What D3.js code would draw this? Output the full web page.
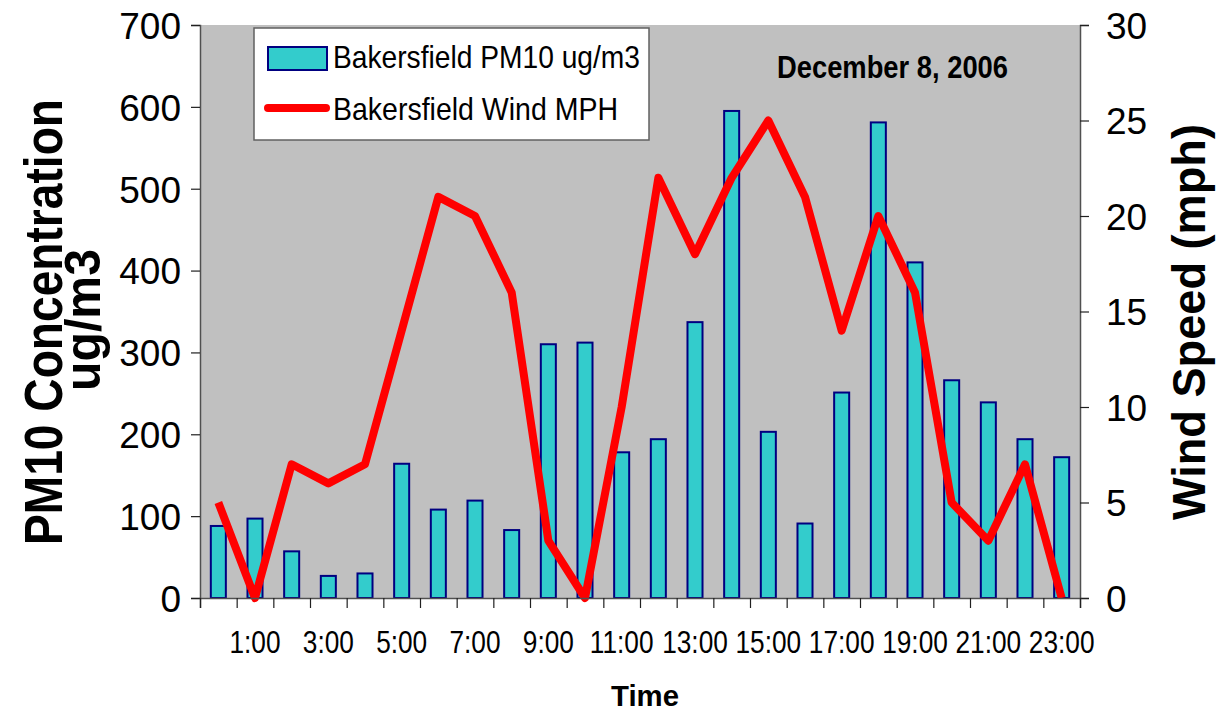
<!DOCTYPE html>
<html>
<head>
<meta charset="utf-8">
<script src="https://cdn.jsdelivr.net/npm/d3@7"></script>
<style>
  body { margin: 0; background: #fff; }
  text { font-family: "Liberation Sans", Arial, sans-serif; }
</style>
</head>
<body>
<div id="chart"></div>
<script>
// Bakersfield PM10 and wind, December 8, 2006

var hours = ["0:00", "1:00", "2:00", "3:00", "4:00", "5:00", "6:00", "7:00",
    "8:00", "9:00", "10:00", "11:00", "12:00", "13:00", "14:00", "15:00",
    "16:00", "17:00", "18:00", "19:00", "20:00", "21:00", "22:00", "23:00"];
var pm10 = [88, 97, 57, 27, 30, 164, 108, 119, 83, 310, 312, 178,
    194, 337, 595, 203, 91, 251, 581, 410, 266, 239, 194, 172];
var wind = [5, 0, 7, 6, 7, 14, 21, 20, 16, 3, 0, 10,
    22, 18, 22, 25, 21, 14, 20, 16, 5, 3, 7, 0];
var pmTicks = [0, 100, 200, 300, 400, 500, 600, 700];
var windTicks = [0, 5, 10, 15, 20, 25, 30];

var width = 1218, height = 715;
var plot = {left: 200, right: 1080, top: 25, bottom: 598};

var svg = d3.select("#chart")
    .append("svg")
    .attr("width", width)
    .attr("height", height);

// squeeze text a little, the original rendering is narrow
function squeeze(sel, k) {
    sel.each(function() {
        var w = this.getComputedTextLength();
        d3.select(this).attr("textLength", w * k).attr("lengthAdjust", "spacingAndGlyphs");
    });
}

var x = d3.scaleBand()
    .domain(hours)
    .range([plot.left, plot.right])
    .paddingInner(0.59)
    .paddingOuter(0.295);

var xEdges = d3.scaleLinear()
    .domain([0, hours.length])
    .range([plot.left, plot.right]);

var yPM = d3.scaleLinear()
    .domain([0, 700])
    .range([plot.bottom, plot.top]);

var yWind = d3.scaleLinear()
    .domain([0, 30])
    .range([plot.bottom, plot.top]);

// plot background
svg.append("rect")
    .attr("x", plot.left)
    .attr("y", plot.top)
    .attr("width", plot.right - plot.left)
    .attr("height", plot.bottom - plot.top)
    .attr("fill", "#c0c0c0");

// bars
svg.append("g")
    .selectAll("rect")
    .data(pm10)
    .enter()
    .append("rect")
    .attr("x", function(d, i) { return x(hours[i]); })
    .attr("y", function(d) { return yPM(d); })
    .attr("width", x.bandwidth())
    .attr("height", function(d) { return yPM(0) - yPM(d); })
    .attr("fill", "#33cccc")
    .attr("stroke", "#000080")
    .attr("stroke-width", 2);

// wind line
var line = d3.line()
    .x(function(d, i) { return x(hours[i]) + x.bandwidth() / 2; })
    .y(function(d) { return yWind(d); });

svg.append("path")
    .datum(wind)
    .attr("d", line)
    .attr("fill", "none")
    .attr("stroke", "#ff0000")
    .attr("stroke-width", 8)
    .attr("stroke-linejoin", "round");

// axes
var leftAxis = svg.append("g")
    .attr("transform", "translate(" + plot.left + ",0)")
    .call(d3.axisLeft(yPM).tickValues(pmTicks).tickSize(9).tickPadding(10));

var rightAxis = svg.append("g")
    .attr("transform", "translate(" + plot.right + ",0)")
    .call(d3.axisRight(yWind).tickValues(windTicks).tickSize(9).tickPadding(17));

var bottomAxis = svg.append("g")
    .attr("transform", "translate(0," + plot.bottom + ")")
    .call(d3.axisBottom(xEdges).tickValues(d3.range(hours.length + 1))
        .tickSize(10).tickFormat(""));

[leftAxis, rightAxis, bottomAxis].forEach(function(a) {
    a.select(".domain").attr("stroke", "#505050").attr("stroke-width", 1.5);
    a.selectAll(".tick line").attr("stroke", "#202020").attr("stroke-width", 1.2);
    a.selectAll("text")
        .style("font-size", "37px")
        .style("font-family", "'Liberation Sans', Arial, sans-serif")
        .attr("fill", "#000");
});
leftAxis.selectAll("text").attr("dy", "0.36em");
rightAxis.selectAll("text").attr("dy", "0.36em");

// hour labels on odd hours
var xLabels = svg.append("g")
    .selectAll("text")
    .data(hours.filter(function(h, i) { return i % 2 == 1; }))
    .enter()
    .append("text")
    .attr("x", function(d) { return x(d) + x.bandwidth() / 2; })
    .attr("y", 653)
    .attr("text-anchor", "middle")
    .style("font-size", "32px")
    .text(function(d) { return d; });
squeeze(xLabels, 0.82);

// axis titles
svg.append("text")
    .attr("transform", "translate(62,322) rotate(-90)")
    .attr("text-anchor", "middle")
    .style("font-size", "54px")
    .style("font-weight", "bold")
    .attr("textLength", 446)
    .attr("lengthAdjust", "spacingAndGlyphs")
    .text("PM10 Concentration");

svg.append("text")
    .attr("transform", "translate(100,320) rotate(-90)")
    .attr("text-anchor", "middle")
    .style("font-size", "50px")
    .style("font-weight", "bold")
    .attr("textLength", 142)
    .attr("lengthAdjust", "spacingAndGlyphs")
    .text("ug/m3");

svg.append("text")
    .attr("transform", "translate(1205,322) rotate(-90)")
    .attr("text-anchor", "middle")
    .style("font-size", "46px")
    .style("font-weight", "bold")
    .attr("textLength", 396)
    .attr("lengthAdjust", "spacingAndGlyphs")
    .text("Wind Speed (mph)");

svg.append("text")
    .attr("x", 645)
    .attr("y", 706)
    .attr("text-anchor", "middle")
    .style("font-size", "30px")
    .style("font-weight", "bold")
    .attr("textLength", 68)
    .attr("lengthAdjust", "spacingAndGlyphs")
    .text("Time");

// date label
svg.append("text")
    .attr("x", 777)
    .attr("y", 78)
    .style("font-size", "32px")
    .style("font-weight", "bold")
    .attr("textLength", 231)
    .attr("lengthAdjust", "spacingAndGlyphs")
    .text("December 8, 2006");

// legend
var legend = svg.append("g");
legend.append("rect")
    .attr("x", 254)
    .attr("y", 28)
    .attr("width", 395)
    .attr("height", 112)
    .attr("fill", "#fff")
    .attr("stroke", "#606060")
    .attr("stroke-width", 1.5);
legend.append("rect")
    .attr("x", 268)
    .attr("y", 47)
    .attr("width", 59)
    .attr("height", 23)
    .attr("fill", "#33cccc")
    .attr("stroke", "#000080")
    .attr("stroke-width", 2);
legend.append("line")
    .attr("x1", 268)
    .attr("x2", 326)
    .attr("y1", 108)
    .attr("y2", 108)
    .attr("stroke", "#ff0000")
    .attr("stroke-width", 8)
    .attr("stroke-linecap", "round");
legend.append("text")
    .attr("x", 333)
    .attr("y", 68)
    .style("font-size", "32px")
    .attr("textLength", 307)
    .attr("lengthAdjust", "spacingAndGlyphs")
    .text("Bakersfield PM10 ug/m3");
legend.append("text")
    .attr("x", 333)
    .attr("y", 120)
    .style("font-size", "32px")
    .attr("textLength", 285)
    .attr("lengthAdjust", "spacingAndGlyphs")
    .text("Bakersfield Wind MPH");
</script>
</body>
</html>
